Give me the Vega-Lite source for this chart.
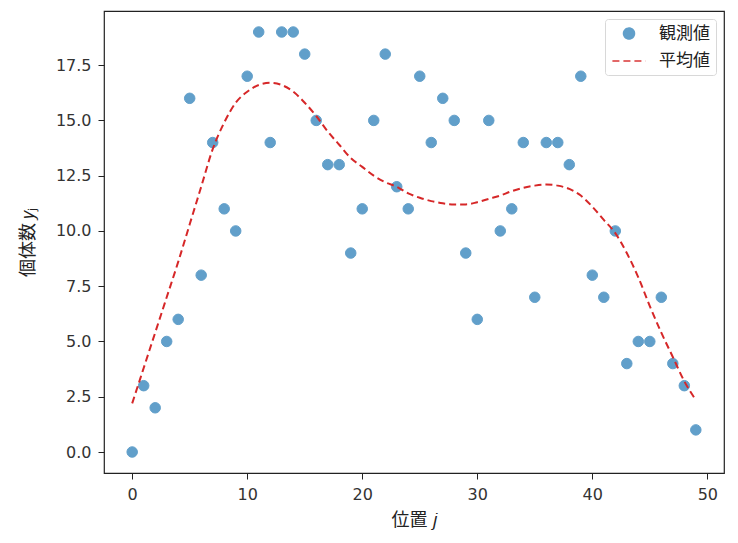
{
  "$schema": "https://vega.github.io/schema/vega-lite/v6.json",
  "width": 620,
  "height": 462,
  "autosize": "none",
  "padding": {"left": 104, "top": 11, "right": 14, "bottom": 70},
  "background": "white",
  "config": {
    "view": {"stroke": "#222", "strokeWidth": 1.2},
    "font": "DejaVu Sans",
    "axis": {
      "grid": false,
      "domain": false,
      "tickColor": "#222",
      "tickSize": 6,
      "labelPadding": 7,
      "labelFontSize": 16,
      "labelColor": "#333",
      "titleFontSize": 18,
      "titleFontWeight": "normal",
      "titleColor": "#222",
      "titleFont": "Noto Sans CJK JP"
    },
    "legend": {
      "title": null,
      "orient": "top-right",
      "offset": 8,
      "labelFont": "Noto Sans CJK JP",
      "labelFontSize": 17,
      "labelColor": "#222",
      "symbolStrokeWidth": 2,
      "strokeColor": "#d8d8d8",
      "fillColor": "white",
      "cornerRadius": 3,
      "padding": 6,
      "rowPadding": -7,
      "labelOffset": 12
    }
  },
  "datasets": {
    "obs": [
      {"x": 0, "y": 0}, {"x": 1, "y": 3}, {"x": 2, "y": 2}, {"x": 3, "y": 5}, {"x": 4, "y": 6},
      {"x": 5, "y": 16}, {"x": 6, "y": 8}, {"x": 7, "y": 14}, {"x": 8, "y": 11}, {"x": 9, "y": 10},
      {"x": 10, "y": 17}, {"x": 11, "y": 19}, {"x": 12, "y": 14}, {"x": 13, "y": 19}, {"x": 14, "y": 19},
      {"x": 15, "y": 18}, {"x": 16, "y": 15}, {"x": 17, "y": 13}, {"x": 18, "y": 13}, {"x": 19, "y": 9},
      {"x": 20, "y": 11}, {"x": 21, "y": 15}, {"x": 22, "y": 18}, {"x": 23, "y": 12}, {"x": 24, "y": 11},
      {"x": 25, "y": 17}, {"x": 26, "y": 14}, {"x": 27, "y": 16}, {"x": 28, "y": 15}, {"x": 29, "y": 9},
      {"x": 30, "y": 6}, {"x": 31, "y": 15}, {"x": 32, "y": 10}, {"x": 33, "y": 11}, {"x": 34, "y": 14},
      {"x": 35, "y": 7}, {"x": 36, "y": 14}, {"x": 37, "y": 14}, {"x": 38, "y": 13}, {"x": 39, "y": 17},
      {"x": 40, "y": 8}, {"x": 41, "y": 7}, {"x": 42, "y": 10}, {"x": 43, "y": 4}, {"x": 44, "y": 5},
      {"x": 45, "y": 5}, {"x": 46, "y": 7}, {"x": 47, "y": 4}, {"x": 48, "y": 3}, {"x": 49, "y": 1}
    ],
    "mean": [
      {"x": 0, "y": 2.2}, {"x": 1, "y": 3.8}, {"x": 2, "y": 5.4}, {"x": 3, "y": 7.0}, {"x": 4, "y": 8.6},
      {"x": 5, "y": 10.3}, {"x": 6, "y": 12.0}, {"x": 7, "y": 13.7}, {"x": 8, "y": 14.9}, {"x": 9, "y": 15.8},
      {"x": 10, "y": 16.3}, {"x": 11, "y": 16.6}, {"x": 12, "y": 16.7}, {"x": 13, "y": 16.6}, {"x": 14, "y": 16.3},
      {"x": 15, "y": 15.8}, {"x": 16, "y": 15.2}, {"x": 17, "y": 14.5}, {"x": 18, "y": 13.9}, {"x": 19, "y": 13.3},
      {"x": 20, "y": 12.9}, {"x": 21, "y": 12.5}, {"x": 22, "y": 12.2}, {"x": 23, "y": 12.0}, {"x": 24, "y": 11.7},
      {"x": 25, "y": 11.5}, {"x": 26, "y": 11.35}, {"x": 27, "y": 11.25}, {"x": 28, "y": 11.2}, {"x": 29, "y": 11.2},
      {"x": 30, "y": 11.3}, {"x": 31, "y": 11.45}, {"x": 32, "y": 11.6}, {"x": 33, "y": 11.8}, {"x": 34, "y": 11.95},
      {"x": 35, "y": 12.05}, {"x": 36, "y": 12.1}, {"x": 37, "y": 12.05}, {"x": 38, "y": 11.9}, {"x": 39, "y": 11.6},
      {"x": 40, "y": 11.1}, {"x": 41, "y": 10.5}, {"x": 42, "y": 9.9}, {"x": 43, "y": 9.0}, {"x": 44, "y": 7.9},
      {"x": 45, "y": 6.6}, {"x": 46, "y": 5.4}, {"x": 47, "y": 4.3}, {"x": 48, "y": 3.2}, {"x": 49, "y": 2.35}
    ]
  },
  "encoding": {
    "x": {
      "field": "x",
      "type": "quantitative",
      "title": "位置 𝑗",
      "scale": {"domain": [-2.45, 51.45], "nice": false, "zero": false},
      "axis": {"values": [0, 10, 20, 30, 40, 50], "titlePadding": 9}
    },
    "y": {
      "field": "y",
      "type": "quantitative",
      "title": "個体数 𝑦ⱼ",
      "scale": {"domain": [-0.95, 19.95], "nice": false, "zero": false},
      "axis": {"values": [0, 2.5, 5, 7.5, 10, 12.5, 15, 17.5], "format": ".1f", "titlePadding": 18}
    }
  },
  "layer": [
    {
      "data": {"name": "obs"},
      "transform": [{"calculate": "'観測値'", "as": "series"}],
      "mark": {"type": "point", "filled": true, "opacity": 0.7, "strokeWidth": 1},
      "encoding": {
        "color": {
          "field": "series",
          "type": "nominal",
          "scale": {"domain": ["観測値", "平均値"], "range": ["#1f77b4", "#d62728"]}
        },
        "stroke": {
          "field": "series",
          "type": "nominal",
          "scale": {"domain": ["観測値", "平均値"], "range": ["#1f77b4", "#d62728"]}
        },
        "shape": {
          "field": "series",
          "type": "nominal",
          "scale": {"domain": ["観測値", "平均値"], "range": ["circle", "stroke"]}
        },
        "size": {
          "field": "series",
          "type": "nominal",
          "scale": {"domain": ["観測値", "平均値"], "range": [110, 1100]}
        }
      }
    },
    {
      "data": {"name": "mean"},
      "transform": [{"calculate": "'平均値'", "as": "series"}],
      "mark": {"type": "line", "strokeWidth": 2, "interpolate": "monotone"},
      "encoding": {
        "color": {"field": "series", "type": "nominal"},
        "strokeDash": {
          "field": "series",
          "type": "nominal",
          "scale": {"domain": ["観測値", "平均値"], "range": [[1, 0], [7, 4]]}
        }
      }
    }
  ]
}
